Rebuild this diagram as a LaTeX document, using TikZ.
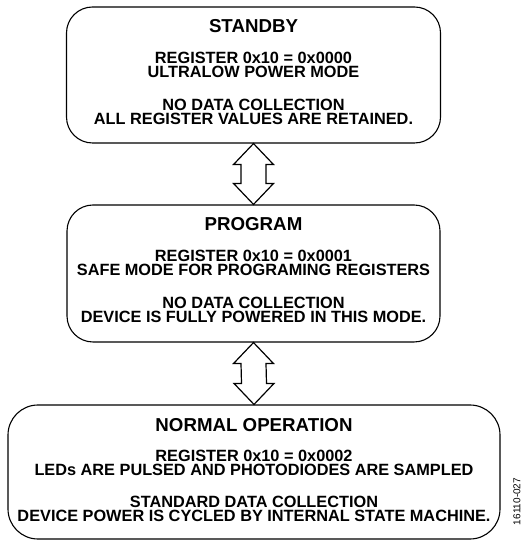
\documentclass[tikz,border=0pt]{standalone}
\usepackage{fontspec}
\setmainfont{Liberation Sans}
\usetikzlibrary{positioning,calc}

% block arrow with a head at both ends, from the node above to the node below
\newcommand{\dualarrow}[2]{%
  \draw[arrowline] (#1.south) -- ++(-20,-21) -- ++(7.5,0)
    -- ($(#2.north)+(-12.5,21)$) -- ++(-7.5,0) -- (#2.north)
    -- ++(20,21) -- ++(-7.5,0) -- ($(#1.south)+(12.5,-21)$)
    -- ++(7.5,0) -- cycle;}

\begin{document}
\begin{tikzpicture}[x=1pt, y=1pt,
    statebox/.style={draw, line width=1.1pt, rounded corners=26pt, inner sep=0pt},
    titletext/.style={font=\fontsize{18.7}{20}\selectfont\bfseries, anchor=base, inner sep=0pt},
    bodytext/.style={font=\fontsize{16.3}{14}\selectfont\bfseries, anchor=base, inner sep=0pt},
    arrowline/.style={line width=1.2pt, line join=miter}
]
    \useasboundingbox (0,0) rectangle (522,540);

    % the three states
    \node[statebox, minimum width=374pt, minimum height=136pt] (standby) at (253.5,465) {};
    \node[statebox, minimum width=373pt, minimum height=137pt] (program) at (253.5,266.5) {};
    \node[statebox, minimum width=492pt, minimum height=134pt, rounded corners=30pt] (normal) at (254,68) {};

    % texts
    \node[titletext] (standby-title) at ($(standby.north)+(0,-26)$) {STANDBY};
    \foreach \dy/\txt [count=\i] in {57/{REGISTER 0x10 = 0x0000}, 71.5/{ULTRALOW POWER MODE},
        104/{NO DATA COLLECTION}, 118.5/{ALL REGISTER VALUES ARE RETAINED.}}
        \node[bodytext] (standby-\i) at ($(standby.north)+(0,-\dy)$) {\txt};

    \node[titletext] (program-title) at ($(program.north)+(0,-26)$) {PROGRAM};
    \foreach \dy/\txt [count=\i] in {57/{REGISTER 0x10 = 0x0001}, 71.5/{SAFE MODE FOR PROGRAMING REGISTERS},
        104/{NO DATA COLLECTION}, 118.5/{DEVICE IS FULLY POWERED IN THIS MODE.}}
        \node[bodytext] (program-\i) at ($(program.north)+(0,-\dy)$) {\txt};

    \node[titletext] (normal-title) at ($(normal.north)+(0,-27)$) {NORMAL OPERATION};
    \foreach \dy/\txt [count=\i] in {57/{REGISTER 0x10 = 0x0002}, 71.5/{LEDs ARE PULSED AND PHOTODIODES ARE SAMPLED},
        103/{STANDARD DATA COLLECTION}, 117.5/{DEVICE POWER IS CYCLED BY INTERNAL STATE MACHINE.}}
        \node[bodytext] (normal-\i) at ($(normal.north)+(0,-\dy)$) {\txt};

    % transitions
    \dualarrow{standby}{program}
    \dualarrow{program}{normal}

    \node[rotate=90, font=\fontsize{10}{11}\selectfont, inner sep=0pt] (figtag) at (517,38.5) {16110-027};
\end{tikzpicture}
\end{document}
